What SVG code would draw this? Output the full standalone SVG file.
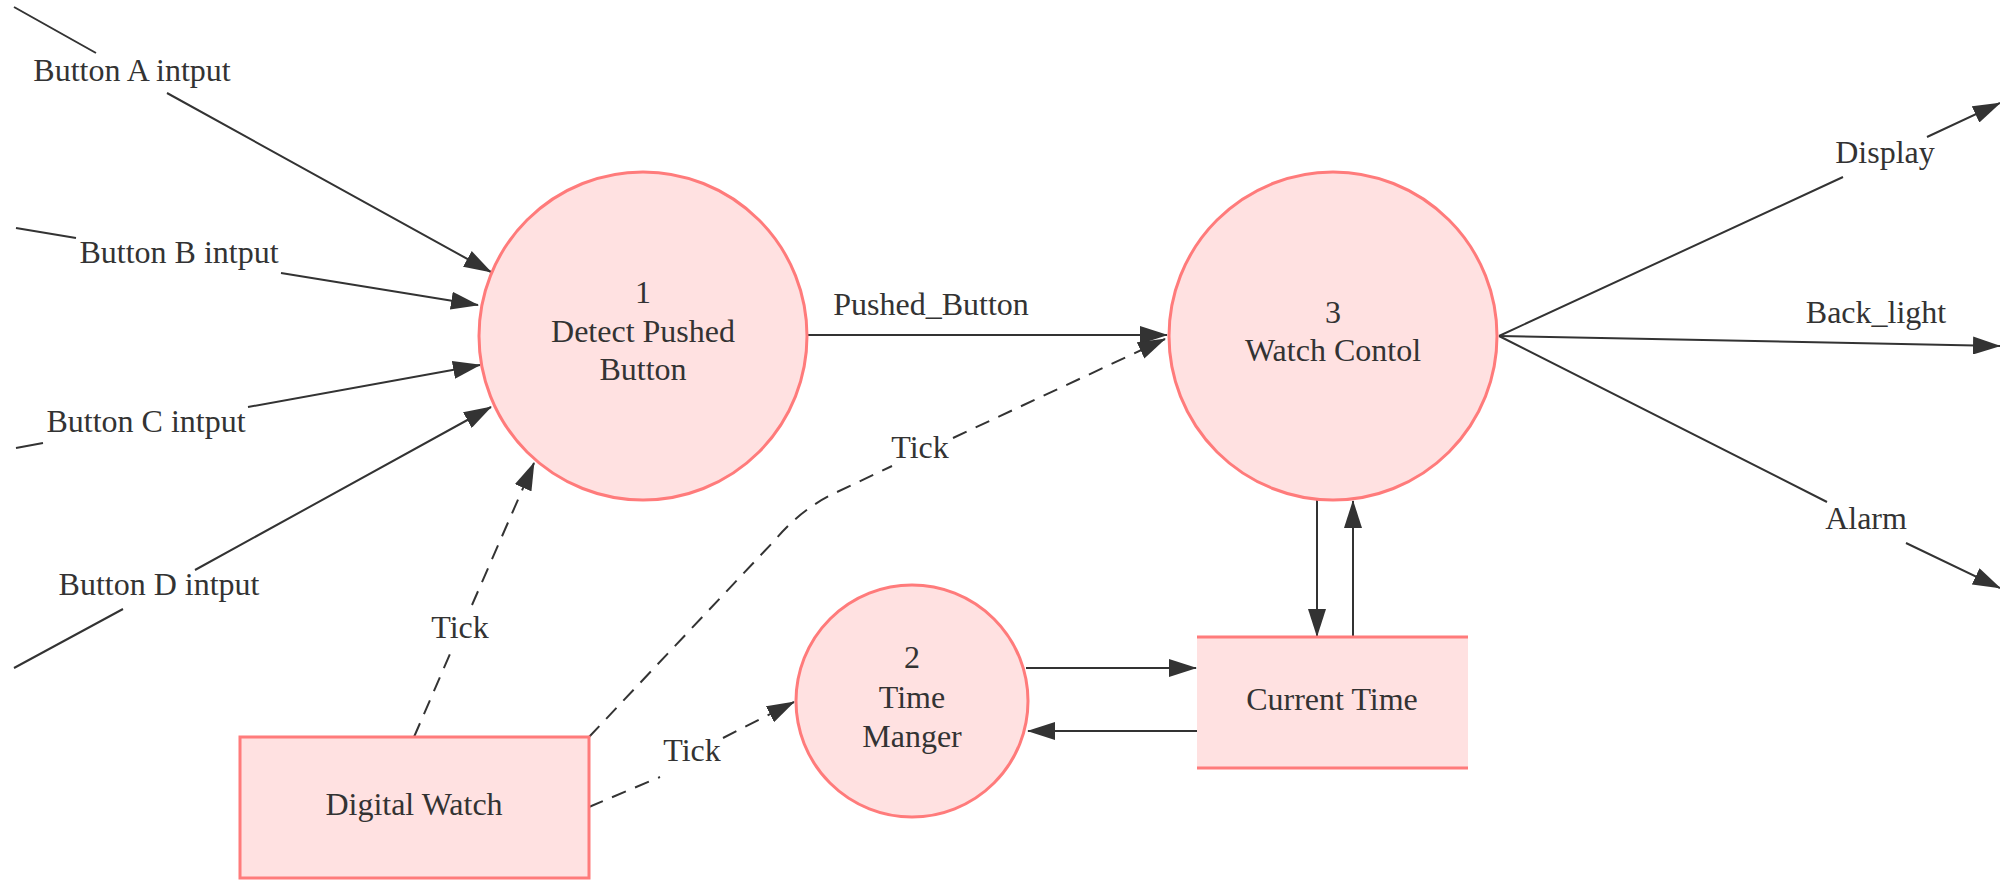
<svg xmlns="http://www.w3.org/2000/svg" width="2000" height="880" viewBox="0 0 2000 880">
<style>
.proc{fill:#ffe1e1;stroke:#ff7b7b;stroke-width:3}
.store{fill:#ffe1e1;stroke:none}
.storeLine{stroke:#ff7b7b;stroke-width:3;fill:none}
.lbl{font-family:"Liberation Serif","Times New Roman",serif;font-size:32px;fill:#333;text-anchor:middle}
.flow{fill:none;stroke:#333;stroke-width:2}
.dash{stroke-dasharray:15 10}
</style>
<defs>
<marker id="ah" markerUnits="userSpaceOnUse" markerWidth="28" markerHeight="18" viewBox="0 0 28 18" refX="27" refY="9" orient="auto">
<path d="M0,0 L28,9 L0,18 z" fill="#333"/>
</marker>
</defs>
<rect width="2000" height="880" fill="#ffffff"/>

<g id="connectors">
<path class="flow" d="M14,7 L96,53 M167,93 L491,272" marker-end="url(#ah)"/>
<path class="flow" d="M16,228 L76,238 M281,273 L478,305" marker-end="url(#ah)"/>
<path class="flow" d="M16,448 L43,443 M248,407 L480,365" marker-end="url(#ah)"/>
<path class="flow" d="M14,668 L123,609 M195,570 L491,407" marker-end="url(#ah)"/>
<path class="flow" d="M807,335 L1167,335" marker-end="url(#ah)"/>
<path class="flow dash" d="M589,737 L775,540 Q801,509 835,493 L892,466 M953,438 L1165,339" marker-end="url(#ah)"/>
<path class="flow dash" d="M414,737 L450,654 M472,605 L534,463" marker-end="url(#ah)"/>
<path class="flow dash" d="M589,807 L660,777 M723,738 L794,702" marker-end="url(#ah)"/>
<path class="flow" d="M1026,668 L1196,668" marker-end="url(#ah)"/>
<path class="flow" d="M1197,731 L1028,731" marker-end="url(#ah)"/>
<path class="flow" d="M1317,500 L1317,636" marker-end="url(#ah)"/>
<path class="flow" d="M1353,637 L1353,501" marker-end="url(#ah)"/>
<path class="flow" d="M1499,336 L1843,177 M1927,137 L2000,103" marker-end="url(#ah)"/>
<path class="flow" d="M1499,336 L2000,346" marker-end="url(#ah)"/>
<path class="flow" d="M1499,336 L1827,502 M1906,543 L2000,588" marker-end="url(#ah)"/>
</g>

<g id="node-detect">
<circle class="proc" cx="643" cy="336" r="164"/>
<text class="lbl" x="643" y="303">1</text>
<text class="lbl" x="643" y="342">Detect Pushed</text>
<text class="lbl" x="643" y="380">Button</text>
</g>

<g id="node-watchcontrol">
<circle class="proc" cx="1333" cy="336" r="164"/>
<text class="lbl" x="1333" y="323">3</text>
<text class="lbl" x="1333" y="361">Watch Contol</text>
</g>

<g id="node-timemanager">
<circle class="proc" cx="912" cy="701" r="116"/>
<text class="lbl" x="912" y="668">2</text>
<text class="lbl" x="912" y="708">Time</text>
<text class="lbl" x="912" y="747">Manger</text>
</g>

<g id="node-currenttime">
<rect class="store" x="1197" y="637" width="271" height="131"/>
<line class="storeLine" x1="1197" y1="637" x2="1468" y2="637"/>
<line class="storeLine" x1="1197" y1="768" x2="1468" y2="768"/>
<text class="lbl" x="1332" y="710">Current Time</text>
</g>

<g id="node-digitalwatch">
<rect class="proc" x="240" y="737" width="349" height="141"/>
<text class="lbl" x="414" y="815">Digital Watch</text>
</g>

<g id="labels">
<text class="lbl" x="132" y="81">Button A intput</text>
<text class="lbl" x="179" y="263">Button B intput</text>
<text class="lbl" x="146" y="432">Button C intput</text>
<text class="lbl" x="159" y="595">Button D intput</text>
<text class="lbl" x="931" y="315">Pushed_Button</text>
<text class="lbl" x="460" y="638">Tick</text>
<text class="lbl" x="920" y="458">Tick</text>
<text class="lbl" x="692" y="761">Tick</text>
<text class="lbl" x="1885" y="163">Display</text>
<text class="lbl" x="1876" y="323">Back_light</text>
<text class="lbl" x="1866" y="529">Alarm</text>
</g>
</svg>
